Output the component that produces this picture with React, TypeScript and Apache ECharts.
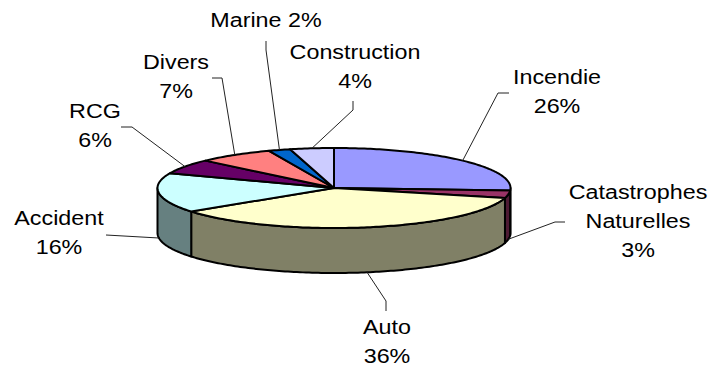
import React, { useEffect, useRef } from "react";
import * as echarts from "echarts";

const categories = ["Incendie", "Catastrophes\nNaturelles", "Auto", "Accident", "RCG", "Divers", "Marine", "Construction"];
const shares = [26, 3, 36, 16, 6, 7, 2, 4];
const shareLabels = ["26%", "3%", "36%", "16%", "6%", "7%", "2%", "4%"];
const topColors = ["#9999FF", "#993366", "#FFFFCC", "#CCFFFF", "#660066", "#FF8080", "#0066CC", "#CCCCFF"];
const sideColors = ["#4D4D80", "#4D1A33", "#808066", "#668080", "#330033", "#804040", "#003366", "#666680"];

// label layout: text centre, first-line y, inline separator, leader elbow points
const layouts = [
  { x: 557, y: 77, sep: "\n", elbow: [[498, 93], [509, 93]] },
  { x: 638, y: 192, sep: "\n", elbow: [[555, 222], [565, 222]] },
  { x: 387, y: 326.5, sep: "\n", elbow: [[386, 301], [386, 311]] },
  { x: 59, y: 218, sep: "\n", elbow: [[106, 235]] },
  { x: 95, y: 110.5, sep: "\n", elbow: [[132, 127], [121, 127]] },
  { x: 176, y: 62, sep: "\n", elbow: [[222, 78], [212, 78]] },
  { x: 266, y: 20, sep: " ", elbow: [[266, 50], [266, 41]] },
  { x: 355, y: 52, sep: "\n", elbow: [[353, 110], [353, 101]] },
];

const CX = 334, CY = 188, RX = 176.5, RY = 40, DEPTH = 45;
const LINE_GAP = 29, TEXT_STRETCH = 1.11;

const total = shares.reduce((a, b) => a + b, 0);
const starts: number[] = [];
shares.reduce((acc, v, i) => {
  starts[i] = (acc / total) * 360;
  return acc + v;
}, 0);
const endOf = (i: number) => starts[i] + (shares[i] / total) * 360;
const pt = (deg: number, dy = 0): [number, number] => {
  const r = (deg * Math.PI) / 180;
  return [CX + RX * Math.sin(r), CY - RY * Math.cos(r) + dy];
};
const arc = (a: number, b: number, dy = 0) => {
  const pts: [number, number][] = [];
  const n = Math.max(2, Math.ceil(Math.abs(b - a)));
  for (let k = 0; k <= n; k++) pts.push(pt(a + ((b - a) * k) / n, dy));
  return pts;
};

const renderSide = (_: any, api: any) => {
  const i = api.value(0);
  const a = Math.max(starts[i], 90);
  const b = Math.min(endOf(i), 270);
  if (b <= a) return { type: "group", children: [] };
  return {
    type: "polygon",
    shape: { points: [...arc(a, b), ...arc(b, a, DEPTH)] },
    style: { fill: sideColors[i], stroke: "#000", lineWidth: 2, lineJoin: "round" },
  };
};
const renderTop = (_: any, api: any) => {
  const i = api.value(0);
  return {
    type: "polygon",
    shape: { points: [[CX, CY], ...arc(starts[i], endOf(i))] },
    style: { fill: topColors[i], stroke: "#000", lineWidth: 2, lineJoin: "round" },
  };
};
const renderLabel = (_: any, api: any) => {
  const i = api.value(0);
  const mid = (starts[i] + endOf(i)) / 2;
  const front = mid > 90 && mid < 270;
  const l = layouts[i];
  const lines = (categories[i] + l.sep + shareLabels[i]).split("\n");
  return {
    type: "group",
    children: [
      {
        type: "polyline",
        shape: { points: [pt(mid, front ? DEPTH : 0), ...l.elbow] },
        style: { fill: "none", stroke: "#222", lineWidth: 1 },
      },
      ...lines.map((line, k) => ({
        type: "text",
        x: l.x,
        y: l.y + k * LINE_GAP,
        scaleX: TEXT_STRETCH,
        style: {
          text: line,
          x: 0,
          y: 0,
          textAlign: "center",
          textVerticalAlign: "middle",
          font: "21px 'Liberation Sans', Arial, sans-serif",
          fill: "#000",
        },
      })),
    ],
  };
};

export default function App() {
  const ref = useRef<HTMLDivElement>(null);
  useEffect(() => {
    const chart = echarts.init(ref.current!, undefined, { renderer: "svg" });
    const rows = shares.map((v, i) => [i, v]);
    const base = { type: "custom", coordinateSystem: "none", silent: true, animation: false, data: rows };
    chart.setOption({
      animation: false,
      backgroundColor: "#fff",
      series: [
        { ...base, z: 1, renderItem: renderSide },
        { ...base, z: 2, renderItem: renderTop },
        { ...base, z: 3, renderItem: renderLabel },
      ],
    });
    return () => chart.dispose();
  }, []);
  return <div ref={ref} style={{ position: "absolute", left: 0, top: 0, width: 709, height: 366 }} />;
}
